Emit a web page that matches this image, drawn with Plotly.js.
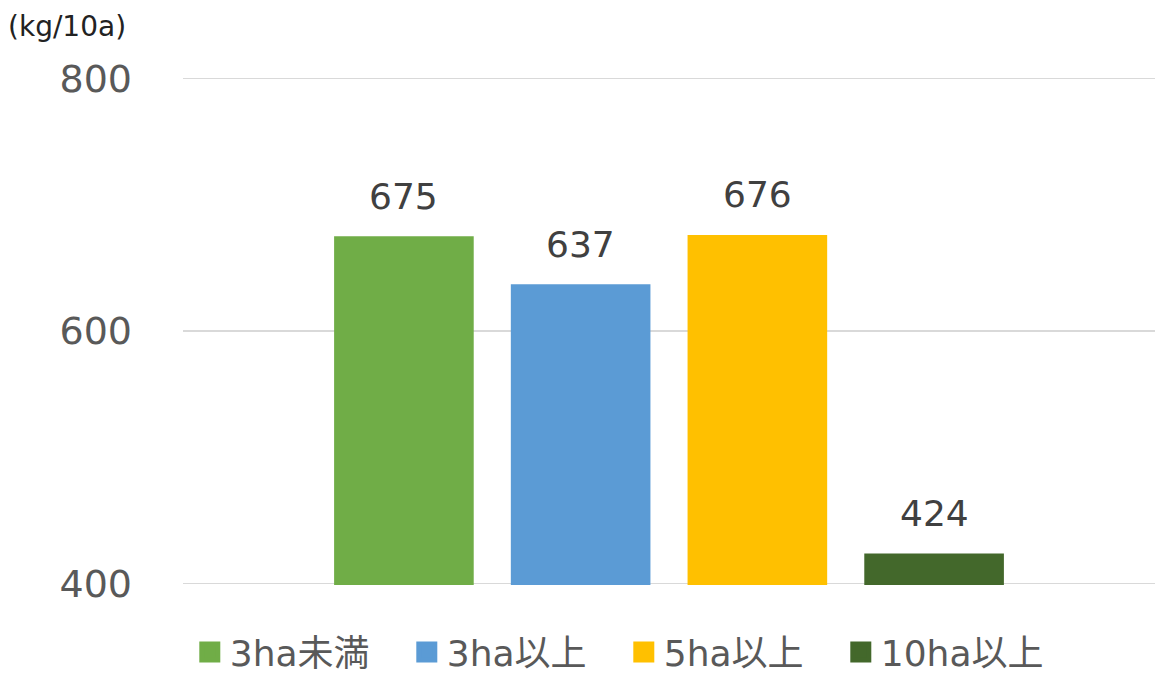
<!DOCTYPE html>
<html>
<head>
<meta charset="utf-8">
<script src="https://cdn.plot.ly/plotly-3.0.1.min.js"></script>
<style>html,body{margin:0;padding:0;background:#fff;}#chart{width:1155px;height:673px;}</style>
</head>
<body>
<div id="chart"></div>
<script>
var categories = ['3ha未満', '3ha以上', '5ha以上', '10ha以上'];
var values = [675, 637, 676, 424];
var colors = ['#70AD47', '#5B9BD5', '#FFC000', '#43682B'];
var yTicks = [400, 600, 800];
var unitLabel = '(kg/10a)';

var FONT = 'DejaVu Sans, Noto Sans CJK JP, sans-serif';
var traces = [];
var annotations = [];
categories.forEach(function (c, i) {
  traces.push({
    type: 'bar', x: [c], y: [values[i]], name: c,
    marker: {color: colors[i]}, width: 0.79,
    showlegend: false, legendgroup: c, hoverinfo: 'x+y'
  });
  traces.push({
    type: 'scatter', mode: 'markers', x: [null], y: [null], name: c,
    legendgroup: c, showlegend: true,
    marker: {symbol: 'square', size: 16, color: colors[i], line: {width: 5, color: colors[i]}}
  });
  annotations.push({
    x: c, y: values[i], xref: 'x', yref: 'y', text: String(values[i]),
    showarrow: false, yanchor: 'middle', yshift: 40,
    font: {family: FONT, size: 36, color: '#404040'}
  });
});
annotations.push({
  xref: 'paper', yref: 'paper', x: -0.182, y: 1.136, xanchor: 'left', yanchor: 'top',
  text: unitLabel, showarrow: false,
  font: {family: 'DejaVu Sans, sans-serif', size: 28, color: '#222222'}
});

var layout = {
  width: 1155, height: 673,
  margin: {l: 183, r: 0, t: 77, b: 88, pad: 0, autoexpand: false},
  paper_bgcolor: '#ffffff', plot_bgcolor: '#ffffff',
  barmode: 'overlay',
  font: {family: FONT, color: '#595959'},
  xaxis: {
    type: 'category', categoryorder: 'array', categoryarray: categories,
    range: [-1.25, 4.25], showticklabels: false, showgrid: false,
    zeroline: false, showline: false, ticks: '', fixedrange: true
  },
  yaxis: {
    range: [399, 801], tickvals: yTicks, ticktext: yTicks.map(String),
    showgrid: true, gridcolor: '#D9D9D9', gridwidth: 1.5,
    zeroline: false, showline: false, ticks: '',
    ticklabelstandoff: 50,
    tickfont: {family: FONT, size: 38, color: '#595959'}, fixedrange: true
  },
  legend: {
    orientation: 'h', x: 0.007, xanchor: 'left', y: -0.132, yanchor: 'middle',
    font: {family: FONT, size: 36, color: '#595959'},
    entrywidth: 172, itemwidth: 30, bgcolor: 'rgba(0,0,0,0)'
  },
  annotations: annotations,
  showlegend: true
};

Plotly.newPlot('chart', traces, layout, {displayModeBar: false, staticPlot: true});
</script>
</body>
</html>
